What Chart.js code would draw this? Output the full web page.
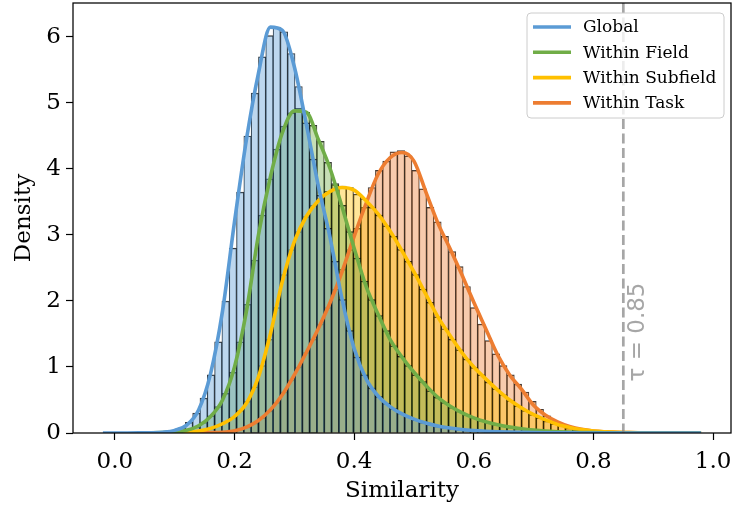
<!DOCTYPE html>
<html>
<head>
<meta charset="utf-8">
<script src="https://cdn.jsdelivr.net/npm/chart.js@4.4.1/dist/chart.umd.min.js"></script>
<style>
  html, body { margin: 0; padding: 0; background: #fff; }
</style>
</head>
<body>
<canvas id="simChart" width="733" height="508"></canvas>
<script>
const seriesNames = ['Global', 'Within Field', 'Within Subfield', 'Within Task'];
const seriesColors = ['#5B9BD5', '#70AD47', '#FFC000', '#ED7D31'];
const threshold = 0.85;

// histogram bins (same edges for every series)
const binStart = 0.0934;
const binWidth = 0.01222;
const globalHist = [0.04, 0.08, 0.16, 0.30, 0.53, 0.88, 1.38, 2.00, 2.80, 3.65, 4.50, 5.15, 5.70, 6.02, 6.15, 6.08, 5.75, 5.25, 4.70, 4.15,
  3.60, 3.10, 2.60, 2.02, 1.55, 1.15, 0.88, 0.68, 0.55, 0.45, 0.37, 0.30, 0.25, 0.20, 0.16, 0.13, 0.105, 0.085, 0.07, 0.056,
  0.045, 0.037, 0.03, 0.025, 0.02, 0.016, 0.013, 0.01, 0.008, 0.006, 0.005, 0.004, 0.003, 0.002, 0.002, 0.001, 0.001, 0.001, 0.001, 0.001];
const fieldHist = [0.015, 0.03, 0.05, 0.09, 0.16, 0.26, 0.40, 0.60, 0.92, 1.38, 1.95, 2.62, 3.30, 3.85, 4.30, 4.65, 4.85, 4.92, 4.86, 4.66,
  4.42, 4.10, 3.78, 3.45, 3.05, 2.65, 2.30, 2.02, 1.78, 1.55, 1.32, 1.16, 1.02, 0.88, 0.78, 0.64, 0.54, 0.46, 0.39, 0.33,
  0.28, 0.23, 0.19, 0.16, 0.13, 0.11, 0.09, 0.07, 0.058, 0.047, 0.037, 0.03, 0.023, 0.018, 0.014, 0.01, 0.008, 0.006, 0.004, 0.003];
const subfieldHist = [0.005, 0.008, 0.014, 0.025, 0.045, 0.075, 0.115, 0.17, 0.24, 0.34, 0.48, 0.70, 1.02, 1.42, 1.90, 2.40, 2.78, 3.05, 3.28, 3.45,
  3.56, 3.66, 3.76, 3.74, 3.72, 3.62, 3.55, 3.42, 3.30, 3.14, 2.98, 2.78, 2.60, 2.40, 2.18, 1.98, 1.76, 1.58, 1.42, 1.26,
  1.12, 0.99, 0.88, 0.77, 0.67, 0.58, 0.49, 0.41, 0.34, 0.28, 0.23, 0.18, 0.14, 0.11, 0.08, 0.06, 0.045, 0.032, 0.022, 0.015];
const taskHist = [0, 0.001, 0.002, 0.003, 0.004, 0.006, 0.01, 0.015, 0.03, 0.055, 0.09, 0.15, 0.23, 0.33, 0.46, 0.62, 0.80, 1.00, 1.22, 1.42,
  1.65, 1.90, 2.18, 2.48, 2.78, 3.10, 3.42, 3.72, 3.98, 4.12, 4.26, 4.28, 4.20, 3.98, 3.70, 3.42, 3.20, 2.98, 2.75, 2.52,
  2.22, 1.90, 1.65, 1.40, 1.20, 1.02, 0.88, 0.74, 0.62, 0.48, 0.36, 0.26, 0.17, 0.11, 0.07, 0.045, 0.03, 0.02, 0.012, 0.008];

// kde curves, sampled every 0.02
const kdeX = [-0.02, 0.00, 0.02, 0.04, 0.06, 0.08, 0.10, 0.12, 0.14, 0.16, 0.18, 0.20, 0.22, 0.24, 0.26, 0.28, 0.30, 0.32, 0.34, 0.36,
  0.38, 0.40, 0.42, 0.44, 0.46, 0.48, 0.50, 0.52, 0.54, 0.56, 0.58, 0.60, 0.62, 0.64, 0.66, 0.68, 0.70, 0.72, 0.74, 0.76,
  0.78, 0.80, 0.82, 0.84, 0.86, 0.88, 0.90, 0.92, 0.94, 0.96, 0.98];
const globalKde = [0, 0.001, 0.001, 0.002, 0.004, 0.012, 0.04, 0.12, 0.35, 0.90, 1.85, 3.20, 4.45, 5.45, 6.15, 6.10, 5.55, 4.68, 3.75, 2.95,
  2.02, 1.28, 0.82, 0.56, 0.40, 0.29, 0.21, 0.15, 0.105, 0.075, 0.053, 0.038, 0.027, 0.019, 0.013, 0.009, 0.006, 0.004, 0.003, 0.002,
  0.001, 0.001, 0.001, 0.001, 0.001, 0, 0, 0, 0, 0, 0];
const fieldKde = [null, null, null, 0.002, 0.004, 0.008, 0.015, 0.04, 0.11, 0.25, 0.50, 1.00, 1.85, 3.00, 3.88, 4.55, 4.88, 4.86, 4.45, 4.00,
  3.42, 2.80, 2.22, 1.80, 1.42, 1.15, 0.92, 0.72, 0.54, 0.41, 0.31, 0.23, 0.17, 0.125, 0.09, 0.065, 0.045, 0.03, 0.02, 0.013,
  0.008, 0.005, 0.003, 0.002, 0.001, 0.001, 0.001, 0, 0, 0, 0];
const subfieldKde = [null, null, null, null, null, 0.002, 0.005, 0.01, 0.03, 0.07, 0.14, 0.25, 0.45, 0.85, 1.50, 2.30, 2.90, 3.28, 3.52, 3.66,
  3.72, 3.68, 3.52, 3.32, 3.06, 2.76, 2.44, 2.10, 1.76, 1.48, 1.22, 1.00, 0.82, 0.65, 0.50, 0.38, 0.28, 0.20, 0.13, 0.085,
  0.052, 0.03, 0.018, 0.01, 0.006, 0.003, 0.002, 0.001, 0, 0, 0];
const taskKde = [null, null, null, null, null, null, 0.0005, 0.001, 0.002, 0.005, 0.012, 0.035, 0.09, 0.19, 0.35, 0.58, 0.88, 1.22, 1.58, 1.98,
  2.45, 2.98, 3.48, 3.92, 4.17, 4.25, 4.12, 3.65, 3.18, 2.80, 2.40, 1.98, 1.58, 1.18, 0.88, 0.66, 0.42, 0.27, 0.17, 0.10,
  0.055, 0.03, 0.018, 0.01, 0.006, 0.004, 0.002, 0.001, 0.001, 0, 0];

const histValues = [globalHist, fieldHist, subfieldHist, taskHist];
const kdeValues = [globalKde, fieldKde, subfieldKde, taskKde];
const binCenters = globalHist.map((_, i) => binStart + binWidth * (i + 0.5));

const serif = 'DejaVu Serif';

function withAlpha(hex, a) {
  const n = parseInt(hex.slice(1), 16);
  return `rgba(${n >> 16},${(n >> 8) & 255},${n & 255},${a})`;
}

// Global is painted last (on top), Task first
const datasets = [];
seriesNames.forEach((name, i) => {
  datasets.push({
    type: 'line',
    label: name,
    data: kdeX.map((x, k) => ({ x, y: kdeValues[i][k] })),
    borderColor: seriesColors[i],
    borderWidth: 3.6,
    pointRadius: 0,
    cubicInterpolationMode: 'monotone',
    fill: false,
    order: i
  });
  datasets.push({
    type: 'bar',
    label: name + ' hist',
    data: binCenters.map((x, k) => ({ x, y: histValues[i][k] })),
    backgroundColor: withAlpha(seriesColors[i], 0.4),
    borderColor: 'rgba(0,0,0,0.8)',
    borderWidth: { top: 0.8, left: 0.5, right: 0.5, bottom: 0 },
    grouped: false,
    barPercentage: 1,
    categoryPercentage: 1,
    order: 4 + i
  });
});

const extras = {
  id: 'extras',
  afterDatasetsDraw(chart) {
    const { ctx, chartArea: a, scales: { x, y } } = chart;
    const tx = x.getPixelForValue(threshold);
    ctx.save();
    ctx.strokeStyle = 'rgba(128,128,128,0.7)';
    ctx.lineWidth = 2.7;
    ctx.setLineDash([10, 4.5]);
    ctx.beginPath();
    ctx.moveTo(tx, a.top);
    ctx.lineTo(tx, a.bottom);
    ctx.stroke();
    ctx.setLineDash([]);
    ctx.translate(tx + 15, y.getPixelForValue(1.53));
    ctx.rotate(-Math.PI / 2);
    ctx.fillStyle = 'rgba(128,128,128,0.7)';
    ctx.font = '23px "DejaVu Sans"';
    ctx.textAlign = 'center';
    ctx.textBaseline = 'middle';
    ctx.fillText('τ = 0.85', 0, 0);
    ctx.restore();

    // axes frame
    ctx.save();
    ctx.strokeStyle = '#000';
    ctx.lineWidth = 1.25;
    ctx.strokeRect(a.left, a.top, a.right - a.left, a.bottom - a.top);
    ctx.restore();

    // legend
    const bw = 197, bh = 105;
    const bx = a.right - 7 - bw, by = a.top + 10;
    ctx.save();
    ctx.beginPath();
    ctx.roundRect(bx, by, bw, bh, 4);
    ctx.fillStyle = 'rgba(255,255,255,0.8)';
    ctx.fill();
    ctx.strokeStyle = '#cccccc';
    ctx.lineWidth = 1;
    ctx.stroke();
    ctx.font = '17px "' + serif + '"';
    ctx.textBaseline = 'middle';
    ctx.fillStyle = '#000';
    seriesNames.forEach((name, i) => {
      const ly = by + 14 + i * 25.3;
      ctx.strokeStyle = seriesColors[i];
      ctx.lineWidth = 3.6;
      ctx.beginPath();
      ctx.moveTo(bx + 6, ly);
      ctx.lineTo(bx + 44, ly);
      ctx.stroke();
      ctx.fillText(name, bx + 56, ly + 1);
    });
    ctx.restore();
  }
};

new Chart(document.getElementById('simChart'), {
  type: 'bar',
  data: { datasets },
  options: {
    responsive: false,
    animation: false,
    devicePixelRatio: 1,
    layout: { padding: { top: 3, right: 2, left: 0, bottom: 0 } },
    plugins: { legend: { display: false }, tooltip: { enabled: false } },
    scales: {
      x: {
        type: 'linear',
        min: -0.07,
        max: 1.03,
        offset: false,
        border: { display: false },
        grid: { drawOnChartArea: false, drawTicks: true, tickLength: 7, tickColor: '#000', tickWidth: 1.2, offset: false },
        ticks: {
          stepSize: 0.2, includeBounds: false, autoSkip: false, maxRotation: 0,
          color: '#000', padding: 8, font: { family: serif, size: 23 },
          callback: v => v.toFixed(1)
        },
        title: { display: true, text: 'Similarity', color: '#000', font: { family: serif, size: 23 }, padding: { top: 0, bottom: 3 } },
        afterFit: s => { s.height = 75; s.paddingLeft = 0; s.paddingRight = 0; }
      },
      y: {
        min: 0,
        max: 6.515,
        border: { display: false },
        grid: { drawOnChartArea: false, drawTicks: true, tickLength: 7, tickColor: '#000', tickWidth: 1.2 },
        ticks: { stepSize: 1, includeBounds: false, color: '#000', padding: 5, font: { family: serif, size: 23 } },
        title: { display: true, text: 'Density', color: '#000', font: { family: serif, size: 23 }, padding: { top: 10, bottom: 0 } },
        afterFit: s => { s.width = 73; s.paddingTop = 0; s.paddingBottom = 0; }
      }
    }
  },
  plugins: [extras]
});
</script>
</body>
</html>
